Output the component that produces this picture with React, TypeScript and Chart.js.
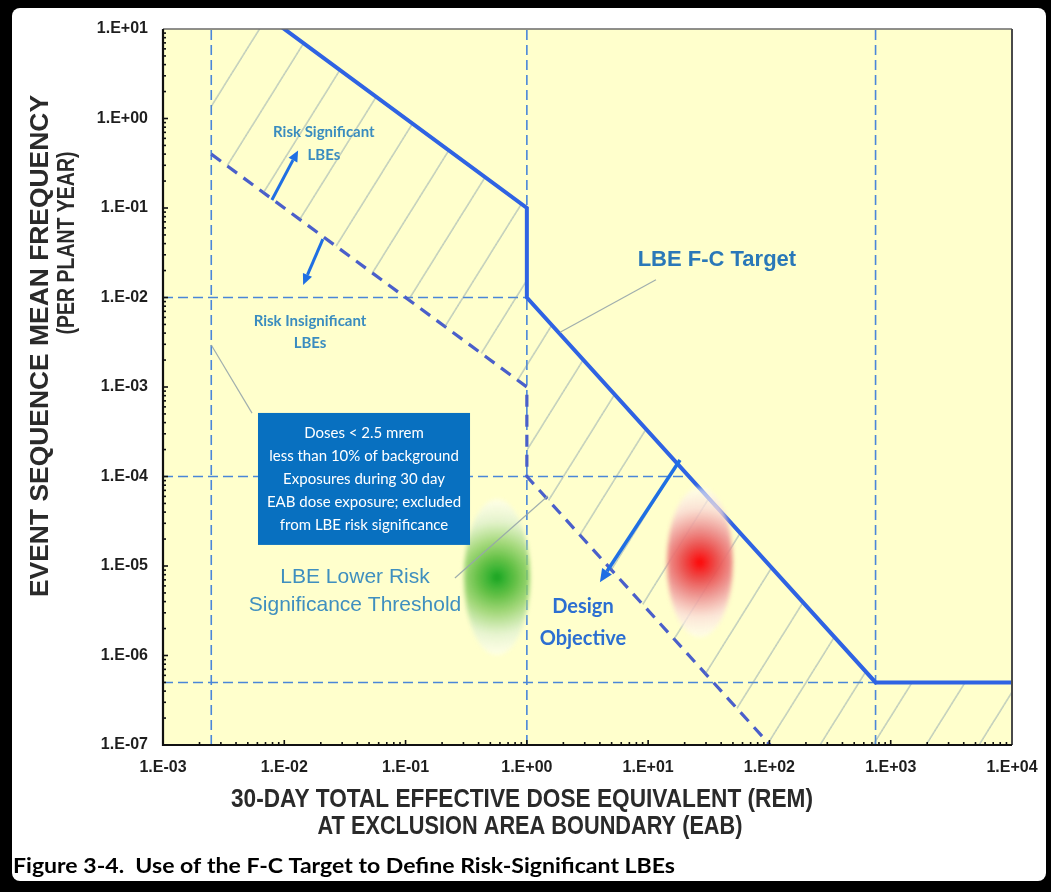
import React, { useEffect, useRef } from 'react';
import { Chart, registerables } from 'chart.js';

Chart.register(...registerables);

const CANVAS_W = 1051;
const CANVAS_H = 892;

// ---------------- data ----------------
const xTickValues = [1e-3, 1e-2, 1e-1, 1e0, 1e1, 1e2, 1e3, 1e4];
const xTickLabels = ['1.E-03', '1.E-02', '1.E-01', '1.E+00', '1.E+01', '1.E+02', '1.E+03', '1.E+04'];
const yTickValues = [1e-7, 1e-6, 1e-5, 1e-4, 1e-3, 1e-2, 1e-1, 1e0, 1e1];
const yTickLabels = ['1.E-07', '1.E-06', '1.E-05', '1.E-04', '1.E-03', '1.E-02', '1.E-01', '1.E+00', '1.E+01'];

// LBE F-C target (dose in rem, frequency per plant-year)
const fcTargetDose = [0.0025, 1, 1, 750, 10000];
const fcTargetFreq = [40, 0.1, 0.01, 5e-7, 5e-7];
// Risk-significance threshold (1% of the F-C target)
const thresholdDose = [0.0025, 1, 1, 750, 10000];
const thresholdFreq = [0.4, 1e-3, 1e-4, 5e-9, 5e-9];

// thin dashed guide lines
const guideVDose = [0.0025, 1, 750];
const guideHFreq = [1e-2, 1e-4, 5e-7];
const guideHEndDose = [1, 22, 750];

// blurred markers
const lowerRiskDose = [0.567];
const lowerRiskFreq = [7.5e-6];
const designDose = [26.7];
const designFreq = [1.1e-5];

// arrows
const arrowFromDose = [0.0079, 0.0208, 18.3];
const arrowFromFreq = [0.123, 0.045, 1.53e-4];
const arrowToDose = [0.013, 0.0143, 4.0];
const arrowToFreq = [0.44, 0.0138, 6.6e-6];

// grey leader lines
const leaderFromDose = [0.0025, 11.6, 0.255];
const leaderFromFreq = [0.00295, 0.0158, 7.35e-6];
const leaderToDose = [0.00542, 1.88, 1.49];
const leaderToFreq = [5.1e-4, 0.0041, 6.05e-5];

// note box
const noteBoxDose = [0.00607, 0.34];
const noteBoxFreq = [5.13e-4, 1.72e-5];
const noteBoxLines = [
  'Doses < 2.5 mrem',
  'less than 10% of background',
  'Exposures during 30 day',
  'EAB dose exposure; excluded',
  'from LBE risk significance',
];

// annotation texts
const noteTexts = [
  ['Risk Significant', 'LBEs'],
  ['Risk Insignificant', 'LBEs'],
  ['LBE Lower Risk', 'Significance Threshold'],
  ['LBE F-C Target'],
  ['Design', 'Objective'],
];
const noteDose = [0.0212, 0.0163, 0.0383, 36.9, 2.9];
const noteFreq = [0.53, 0.00412, 5.25e-6, 0.0262, 2.31e-6];

const xTitleLines = ['30-DAY TOTAL EFFECTIVE DOSE EQUIVALENT (REM)', 'AT EXCLUSION AREA BOUNDARY (EAB)'];
const yTitleLines = ['EVENT SEQUENCE MEAN FREQUENCY', '(PER PLANT YEAR)'];
const captionText = 'Figure 3-4.  Use of the F-C Target to Define Risk-Significant LBEs';

// ---------------- styles ----------------
const noteStyles = [
  { font: 'bold 15px Lato', color: '#3a8cbf', lh: 23 },
  { font: 'bold 15px Lato', color: '#3a8cbf', lh: 22 },
  { font: '21px "Liberation Sans", Arial', color: '#3f8fbf', lh: 28 },
  { font: 'bold 22px "Liberation Sans", Arial', color: '#2a78b8', lh: 24 },
  { font: 'bold 20px Lato', color: '#2c6fd1', lh: 32 },
];

function zip(xs: number[], ys: number[]) {
  return xs.map((x, i) => ({ x, y: ys[i] }));
}

function makeHatch(ctx: CanvasRenderingContext2D) {
  const P = 53;
  const Ht = 85;
  const c = document.createElement('canvas');
  c.width = P;
  c.height = Ht;
  const g = c.getContext('2d')!;
  g.strokeStyle = 'rgba(115,145,170,0.8)';
  g.lineWidth = 1;
  for (const off of [-P, 0, P]) {
    g.beginPath();
    g.moveTo(off, Ht);
    g.lineTo(off + P, 0);
    g.stroke();
  }
  const pat = ctx.createPattern(c, 'repeat')!;
  pat.setTransform(new DOMMatrix().translate(12.5, 0));
  return pat;
}

function makeBlob(stops: [number, string][], rx: number, ry: number, R: number) {
  const pad = 6;
  const c = document.createElement('canvas');
  c.width = 2 * rx + 2 * pad;
  c.height = 2 * ry + 2 * pad;
  const g = c.getContext('2d')!;
  const cx = c.width / 2;
  const cy = c.height / 2;
  const grad = g.createRadialGradient(cx, cy, 0, cx, cy, R);
  stops.forEach(([o, col]) => grad.addColorStop(o, col));
  g.filter = 'blur(2px)';
  g.fillStyle = grad;
  g.beginPath();
  g.ellipse(cx, cy, rx, ry, 0, 0, Math.PI * 2);
  g.fill();
  return c;
}

function drawFitted(ctx: CanvasRenderingContext2D, text: string, cx: number, cy: number, font: string, targetW: number) {
  ctx.save();
  ctx.font = font;
  ctx.textAlign = 'center';
  ctx.textBaseline = 'middle';
  const w = ctx.measureText(text).width;
  ctx.translate(cx, cy);
  ctx.scale(targetW / w, 1);
  ctx.fillText(text, 0, 0);
  ctx.restore();
}

function drawArrow(ctx: CanvasRenderingContext2D, x1: number, y1: number, x2: number, y2: number, width: number, head: number) {
  const ang = Math.atan2(y2 - y1, x2 - x1);
  const hx = x2 - head * Math.cos(ang);
  const hy = y2 - head * Math.sin(ang);
  ctx.lineWidth = width;
  ctx.beginPath();
  ctx.moveTo(x1, y1);
  ctx.lineTo(hx, hy);
  ctx.stroke();
  const hw = head * 0.45;
  ctx.beginPath();
  ctx.moveTo(x2, y2);
  ctx.lineTo(hx + hw * Math.sin(ang), hy - hw * Math.cos(ang));
  ctx.lineTo(hx - hw * Math.sin(ang), hy + hw * Math.cos(ang));
  ctx.closePath();
  ctx.fill();
}

export default function App() {
  const ref = useRef<HTMLCanvasElement>(null);

  useEffect(() => {
    document.body.style.margin = '0';
    const canvas = ref.current!;
    const ctx0 = canvas.getContext('2d')!;
    const hatch = makeHatch(ctx0);
    const redBlob = makeBlob(
      [
        [0, 'rgba(255,0,0,1)'],
        [0.06, 'rgba(250,25,25,1)'],
        [0.22, 'rgba(235,70,70,0.95)'],
        [0.45, 'rgba(236,140,140,0.9)'],
        [0.72, 'rgba(250,220,215,0.8)'],
        [1, 'rgba(255,255,250,0.55)'],
      ],
      33, 75, 75
    );
    const greenBlob = makeBlob(
      [
        [0, 'rgba(20,160,30,1)'],
        [0.07, 'rgba(45,175,45,1)'],
        [0.25, 'rgba(95,190,65,0.95)'],
        [0.45, 'rgba(150,210,110,0.88)'],
        [0.72, 'rgba(222,240,205,0.8)'],
        [1, 'rgba(255,255,250,0.55)'],
      ],
      33, 78, 78
    );

    const guides: any[] = [];
    guideVDose.forEach((d) => {
      guides.push({
        data: [{ x: d, y: 1e-7 }, { x: d, y: 10 }],
        borderColor: '#4a86d8', borderWidth: 1.6, borderDash: [10, 5],
        pointRadius: 0, fill: false, order: 5,
      });
    });
    guideHFreq.forEach((f, i) => {
      guides.push({
        data: [{ x: 1e-3, y: f }, { x: guideHEndDose[i], y: f }],
        borderColor: '#4a86d8', borderWidth: 1.6, borderDash: [10, 5],
        pointRadius: 0, fill: false, order: 5,
      });
    });

    const framePlugin = {
      id: 'frame',
      beforeDraw(chart: any) {
        const { ctx, chartArea: a } = chart;
        ctx.save();
        ctx.fillStyle = '#000';
        ctx.fillRect(0, 0, CANVAS_W, CANVAS_H);
        ctx.fillStyle = '#fff';
        ctx.beginPath();
        ctx.roundRect(12, 8, 1034, 873, 8);
        ctx.fill();
        ctx.fillStyle = '#FFFFCC';
        ctx.fillRect(a.left, a.top, a.right - a.left, a.bottom - a.top);
        ctx.restore();
      },
      afterDatasetsDraw(chart: any) {
        const { ctx, chartArea: a } = chart;
        const xs = chart.scales.x;
        const ys = chart.scales.y;
        const px = (v: number) => xs.getPixelForValue(v);
        const py = (v: number) => ys.getPixelForValue(v);
        ctx.save();

        // leader lines
        ctx.strokeStyle = 'rgba(150,165,170,0.9)';
        ctx.lineWidth = 1.2;
        leaderFromDose.forEach((d, i) => {
          ctx.beginPath();
          ctx.moveTo(px(d), py(leaderFromFreq[i]));
          ctx.lineTo(px(leaderToDose[i]), py(leaderToFreq[i]));
          ctx.stroke();
        });

        // note box
        const bx0 = px(noteBoxDose[0]);
        const bx1 = px(noteBoxDose[1]);
        const by0 = py(noteBoxFreq[0]);
        const by1 = py(noteBoxFreq[1]);
        ctx.fillStyle = '#0870c0';
        ctx.fillRect(bx0, by0, bx1 - bx0, by1 - by0);
        ctx.fillStyle = '#ffffff';
        ctx.font = '15px Lato';
        ctx.textAlign = 'center';
        ctx.textBaseline = 'middle';
        const bcx = (bx0 + bx1) / 2;
        const bcy = (by0 + by1) / 2;
        noteBoxLines.forEach((t, i) => {
          ctx.fillText(t, bcx, bcy + (i - (noteBoxLines.length - 1) / 2) * 23);
        });

        // arrows
        ctx.strokeStyle = '#1f6fe3';
        ctx.fillStyle = '#1f6fe3';
        ctx.lineCap = 'butt';
        arrowFromDose.forEach((d, i) => {
          drawArrow(ctx, px(d), py(arrowFromFreq[i]), px(arrowToDose[i]), py(arrowToFreq[i]), i === 2 ? 3.5 : 3, i === 2 ? 13 : 11);
        });

        // annotation texts
        noteTexts.forEach((lines, i) => {
          const st = noteStyles[i];
          ctx.font = st.font;
          ctx.fillStyle = st.color;
          const cx = px(noteDose[i]);
          const cy = py(noteFreq[i]);
          lines.forEach((t, j) => {
            ctx.fillText(t, cx, cy + (j - (lines.length - 1) / 2) * st.lh);
          });
        });

        // axis frame
        ctx.strokeStyle = '#6a6a6a';
        ctx.lineWidth = 1.5;
        ctx.beginPath();
        ctx.moveTo(a.left, a.top);
        ctx.lineTo(a.right, a.top);
        ctx.stroke();
        ctx.strokeStyle = '#4a4a4a';
        ctx.lineWidth = 2;
        ctx.beginPath();
        ctx.moveTo(a.right, a.top);
        ctx.lineTo(a.right, a.bottom);
        ctx.stroke();
        ctx.strokeStyle = '#111';
        ctx.lineWidth = 2.2;
        ctx.beginPath();
        ctx.moveTo(a.left, a.top);
        ctx.lineTo(a.left, a.bottom);
        ctx.lineTo(a.right, a.bottom);
        ctx.stroke();

        // ticks (inside)
        ctx.lineWidth = 1.6;
        for (let e = -3; e < 4; e++) {
          for (let m = 1; m < 10; m++) {
            const x = px(m * Math.pow(10, e));
            const len = m === 1 ? 5 : 3;
            ctx.beginPath();
            ctx.moveTo(x, a.bottom);
            ctx.lineTo(x, a.bottom - len);
            ctx.stroke();
          }
        }
        for (let e = -7; e < 1; e++) {
          for (let m = 1; m < 10; m++) {
            const y = py(m * Math.pow(10, e));
            const len = m === 1 ? 5 : 3;
            ctx.beginPath();
            ctx.moveTo(a.left, y);
            ctx.lineTo(a.left + len, y);
            ctx.stroke();
          }
        }

        // axis titles
        ctx.fillStyle = '#2a2a2a';
        drawFitted(ctx, xTitleLines[0], 522, 800, 'bold 26px "Liberation Sans", Arial', 582);
        drawFitted(ctx, xTitleLines[1], 530, 827, 'bold 26px "Liberation Sans", Arial', 425);
        ctx.save();
        ctx.translate(41, 346);
        ctx.rotate(-Math.PI / 2);
        drawFitted(ctx, yTitleLines[0], 0, 0, 'bold 26px "Liberation Sans", Arial', 502);
        ctx.restore();
        ctx.save();
        ctx.translate(67, 243);
        ctx.rotate(-Math.PI / 2);
        drawFitted(ctx, yTitleLines[1], 0, 0, 'bold 24px "Liberation Sans", Arial', 183);
        ctx.restore();

        // caption
        ctx.fillStyle = '#000';
        ctx.save();
        ctx.font = 'bold 21px Lato';
        const cw = ctx.measureText(captionText).width;
        ctx.textAlign = 'left';
        ctx.textBaseline = 'middle';
        ctx.translate(13, 866);
        ctx.scale(662 / cw, 1);
        ctx.fillText(captionText, 0, 0);
        ctx.restore();

        ctx.restore();
      },
    };

    const tickFont = { family: '"Liberation Sans", Arial', size: 16, weight: 'bold' as const };

    const chart = new Chart(canvas, {
      type: 'line',
      data: {
        datasets: [
          {
            label: 'LBE F-C Target',
            data: zip(fcTargetDose, fcTargetFreq),
            borderColor: '#2f63e3',
            borderWidth: 4,
            pointRadius: 0,
            fill: { target: 1 },
            backgroundColor: hatch as any,
            clip: 0,
            order: 2,
          },
          {
            label: 'Risk significance threshold',
            data: zip(thresholdDose, thresholdFreq),
            borderColor: '#4a5fca',
            borderWidth: 3.2,
            borderDash: [12, 8],
            pointRadius: 0,
            fill: false,
            clip: 0,
            order: 3,
          },
          {
            label: 'LBE Lower Risk Significance Threshold',
            data: zip(lowerRiskDose, lowerRiskFreq),
            showLine: false,
            pointStyle: greenBlob as any,
            pointRadius: 5,
            order: 1,
          },
          {
            label: 'Design Objective',
            data: zip(designDose, designFreq),
            showLine: false,
            pointStyle: redBlob as any,
            pointRadius: 5,
            order: 1,
          },
          ...guides,
        ],
      },
      options: {
        responsive: false,
        animation: false,
        events: [],
        layout: { padding: { left: 0, right: 39, top: 29, bottom: 0 } },
        plugins: { legend: { display: false }, tooltip: { enabled: false }, title: { display: false } },
        elements: { line: { tension: 0 } },
        scales: {
          x: {
            type: 'logarithmic',
            min: 1e-3,
            max: 1e4,
            grid: { display: false, drawTicks: false },
            border: { display: false },
            afterFit: (s: any) => { s.height = CANVAS_H - 745; },
            afterBuildTicks: (s: any) => { s.ticks = xTickValues.map((v) => ({ value: v })); },
            ticks: {
              autoSkip: false,
              maxRotation: 0,
              minRotation: 0,
              padding: 13,
              color: '#1e1e1e',
              font: tickFont,
              callback: (_v: any, i: number) => xTickLabels[i],
            },
          },
          y: {
            type: 'logarithmic',
            min: 1e-7,
            max: 10,
            grid: { display: false, drawTicks: false },
            border: { display: false },
            afterFit: (s: any) => { s.width = 163; },
            afterBuildTicks: (s: any) => { s.ticks = yTickValues.map((v) => ({ value: v })); },
            ticks: {
              autoSkip: false,
              padding: 15,
              color: '#1e1e1e',
              font: tickFont,
              callback: (_v: any, i: number) => yTickLabels[i],
            },
          },
        },
      },
      plugins: [framePlugin],
    });

    return () => chart.destroy();
  }, []);

  return (
    <canvas
      ref={ref}
      width={CANVAS_W}
      height={CANVAS_H}
      style={{ display: 'block', width: CANVAS_W, height: CANVAS_H }}
    />
  );
}
